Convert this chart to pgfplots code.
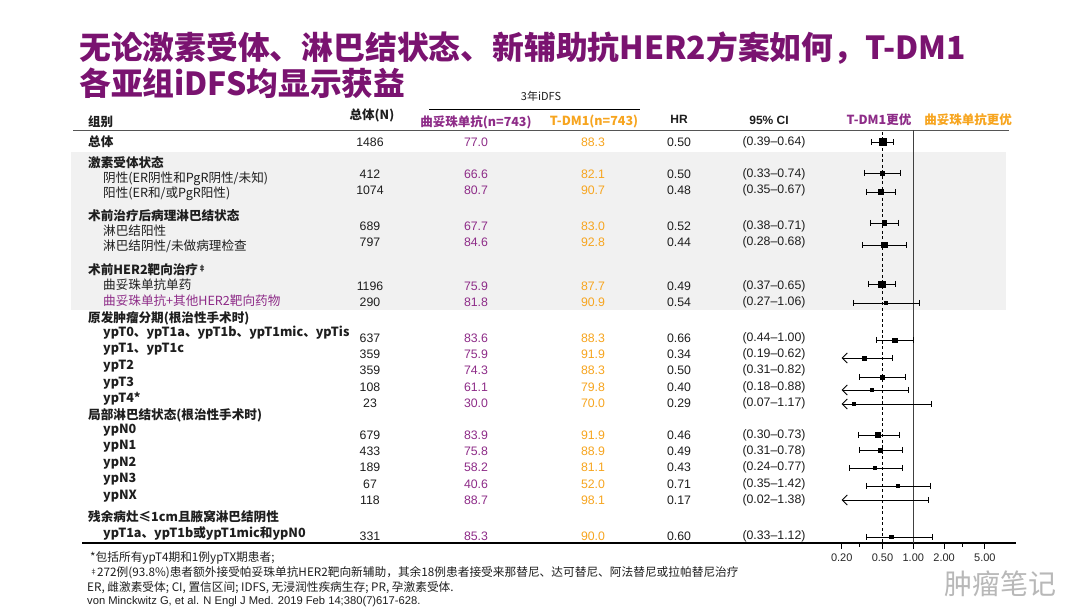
\documentclass[border=0pt]{standalone}
\usepackage{fontspec}
\setmainfont{Liberation Sans}
\newfontfamily\cjk{Noto Sans CJK SC}
\usepackage{pgfplots}
\pgfplotsset{compat=1.18}
\usepackage{pgfplotstable}
\usetikzlibrary{arrows.meta}
\definecolor{tpurple}{HTML}{7A1370}
\definecolor{npurple}{HTML}{8E2C88}
\definecolor{norange}{HTML}{F7A51F}
\definecolor{bggray}{HTML}{F1F1F1}
\definecolor{rulegray}{HTML}{555555}
\definecolor{txt}{HTML}{1E1E1E}

% HR point estimates (y = row position, ms = box half size)
\pgfplotstableread{
hr y ms
0.50 -142 3.7
0.50 -173 1.8
0.48 -192 2.6
0.52 -223 2.4
0.52 -245 2.6
0.49 -284 3.2
0.54 -303 1.6
0.66 -340 2.2
0.33 -358 1.8
0.50 -377 2.0
0.39 -390 1.6
0.26 -404 1.6
0.45 -435 2.4
0.48 -450 2.0
0.42 -468 1.7
0.71 -486 1.6
0.61 -537 1.7
}\hrdata

% 95% CI segments (lower bound >= 0.20)
\pgfplotstableread{
x y
0.39 -142
0.64 -142
nan nan
0.33 -173
0.74 -173
nan nan
0.35 -192
0.67 -192
nan nan
0.38 -223
0.71 -223
nan nan
0.32 -245
0.86 -245
nan nan
0.36 -284
0.67 -284
nan nan
0.26 -303
1.15 -303
nan nan
0.44 -340
1.00 -340
nan nan
0.30 -377
0.83 -377
nan nan
0.29 -435
0.73 -435
nan nan
0.30 -450
0.78 -450
nan nan
0.24 -468
0.78 -468
nan nan
0.35 -486
1.48 -486
nan nan
0.35 -537
1.52 -537
}\cidata

\begin{document}
\begin{tikzpicture}
\path[use as bounding box, fill=white] (0,0) rectangle (1080pt,607pt);
\begin{scope}[x=1pt,y=-1pt,shift={(0pt,607pt)}]
  \fill[bggray] (71,152) rectangle (1006,310);
  % title
  \node[anchor=west, text=tpurple, font=\cjk\bfseries\fontsize{31.8}{36}\selectfont, inner sep=0pt] at (79,48) {无论激素受体、淋巴结状态、新辅助抗HER2方案如何，T-DM1};
  \node[anchor=west, text=tpurple, font=\cjk\bfseries\fontsize{31.8}{36}\selectfont, inner sep=0pt] at (79,83) {各亚组iDFS均显示获益};
  % header
  \node[font=\cjk\fontsize{11}{13}\selectfont, text=txt] at (541,96) {3年iDFS};
  \draw[black, line width=0.8pt] (429,109) -- (640,109);
  \node[anchor=west, font=\cjk\bfseries\fontsize{12.5}{14}\selectfont, text=txt, inner sep=0pt] at (88,122) {组别};
  \node[font=\cjk\bfseries\fontsize{12.5}{14}\selectfont, text=txt] at (372,115) {总体(N)};
  \node[font=\cjk\bfseries\fontsize{12.5}{14}\selectfont, text=npurple] at (476,122) {曲妥珠单抗(n=743)};
  \node[font=\cjk\bfseries\fontsize{12.5}{14}\selectfont, text=norange] at (594,122) {T-DM1(n=743)};
  \node[font=\bfseries\fontsize{12}{14}\selectfont, text=txt] at (679,119) {HR};
  \node[font=\bfseries\fontsize{12}{14}\selectfont, text=txt] at (769,120) {95\% CI};
  \node[font=\cjk\bfseries\fontsize{12.5}{14}\selectfont, text=npurple] at (879,120) {T-DM1更优};
  \node[font=\cjk\bfseries\fontsize{12.5}{14}\selectfont, text=norange] at (968,120) {曲妥珠单抗更优};
  \draw[rulegray, line width=1.4pt] (73,130.5) -- (1009,130.5);
  % row labels
  \begin{scope}[every node/.style={anchor=west, inner sep=0pt, text=txt, font=\cjk\fontsize{12.6}{14}\selectfont}]
    \node[font=\cjk\bfseries\fontsize{12.6}{14}\selectfont] at (88,142) {总体};
    \node[font=\cjk\bfseries\fontsize{12.6}{14}\selectfont] at (88,163) {激素受体状态};
    \node at (103,179) {阴性(ER阴性和PgR阴性/未知)};
    \node at (103,194) {阳性(ER和/或PgR阳性)};
    \node[font=\cjk\bfseries\fontsize{12.6}{14}\selectfont] at (88,216) {术前治疗后病理淋巴结状态};
    \node at (103,231) {淋巴结阳性};
    \node at (103,246) {淋巴结阴性/未做病理检查};
    \node[font=\cjk\bfseries\fontsize{12.6}{14}\selectfont] at (88,270) {术前HER2靶向治疗\raisebox{3pt}{\fontsize{8}{8}\selectfont ‡}};
    \node at (103,285) {曲妥珠单抗单药};
    \node[text=npurple] at (103,301) {曲妥珠单抗+其他HER2靶向药物};
    \node[font=\cjk\bfseries\fontsize{12.6}{14}\selectfont] at (88,318) {原发肿瘤分期(根治性手术时)};
    \node[font=\cjk\bfseries\fontsize{12.6}{14}\selectfont] at (103,333) {ypT0、ypT1a、ypT1b、ypT1mic、ypTis};
    \node[font=\cjk\bfseries\fontsize{12.6}{14}\selectfont] at (103,349) {ypT1、ypT1c};
    \node[font=\cjk\bfseries\fontsize{12.6}{14}\selectfont] at (103,366) {ypT2};
    \node[font=\cjk\bfseries\fontsize{12.6}{14}\selectfont] at (103,383) {ypT3};
    \node[font=\cjk\bfseries\fontsize{12.6}{14}\selectfont] at (103,399) {ypT4*};
    \node[font=\cjk\bfseries\fontsize{12.6}{14}\selectfont] at (88,415) {局部淋巴结状态(根治性手术时)};
    \node[font=\cjk\bfseries\fontsize{12.6}{14}\selectfont] at (103,430) {ypN0};
    \node[font=\cjk\bfseries\fontsize{12.6}{14}\selectfont] at (103,446) {ypN1};
    \node[font=\cjk\bfseries\fontsize{12.6}{14}\selectfont] at (103,463) {ypN2};
    \node[font=\cjk\bfseries\fontsize{12.6}{14}\selectfont] at (103,479) {ypN3};
    \node[font=\cjk\bfseries\fontsize{12.6}{14}\selectfont] at (103,496) {ypNX};
    \node[font=\cjk\bfseries\fontsize{12.6}{14}\selectfont] at (88,517) {残余病灶≤1cm且腋窝淋巴结阴性};
    \node[font=\cjk\bfseries\fontsize{12.6}{14}\selectfont] at (103,533) {ypT1a、ypT1b或ypT1mic和ypN0};
  \end{scope}
  % numeric columns
  \begin{scope}[every node/.style={inner sep=0pt, font=\fontsize{12.3}{14}\selectfont}]
    \foreach \yy/\n/\a/\b/\h/\ci in {
      142/1486/77.0/88.3/0.50/0.39–0.64,
      174/412/66.6/82.1/0.50/0.33–0.74,
      190/1074/80.7/90.7/0.48/0.35–0.67,
      226/689/67.7/83.0/0.52/0.38–0.71,
      242/797/84.6/92.8/0.44/0.28–0.68,
      286/1196/75.9/87.7/0.49/0.37–0.65,
      302/290/81.8/90.9/0.54/0.27–1.06,
      338/637/83.6/88.3/0.66/0.44–1.00,
      354/359/75.9/91.9/0.34/0.19–0.62,
      370/359/74.3/88.3/0.50/0.31–0.82,
      387/108/61.1/79.8/0.40/0.18–0.88,
      403/23/30.0/70.0/0.29/0.07–1.17,
      435/679/83.9/91.9/0.46/0.30–0.73,
      451/433/75.8/88.9/0.49/0.31–0.78,
      467/189/58.2/81.1/0.43/0.24–0.77,
      484/67/40.6/52.0/0.71/0.35–1.42,
      500/118/88.7/98.1/0.17/0.02–1.38,
      536/331/85.3/90.0/0.60/0.33–1.12}{
      \node[text=txt] at (370,\yy) {\n};
      \node[text=npurple] at (476,\yy) {\a};
      \node[text=norange] at (593,\yy) {\b};
      \node[text=txt] at (679,\yy) {\h};
      \node[text=txt] at (774,\yy) {(\ci)};
    }
  \end{scope}
  % bottom rule (left part)
  \draw[black, line width=1.2pt] (82,543) -- (842,543);
  % footnotes
  \begin{scope}[every node/.style={anchor=west, inner sep=0pt, text=txt, font=\cjk\fontsize{11.7}{13}\selectfont}]
    \node at (90,558) {*包括所有ypT4期和1例ypTX期患者;};
    \node at (90,573) {\raisebox{2pt}{\fontsize{7}{7}\selectfont ‡}272例(93.8\%)患者额外接受帕妥珠单抗HER2靶向新辅助，其余18例患者接受来那替尼、达可替尼、阿法替尼或拉帕替尼治疗};
    \node at (87,588) {ER, 雌激素受体; CI, 置信区间; IDFS, 无浸润性疾病生存; PR, 孕激素受体.};
    \node[font=\fontsize{11.2}{13}\selectfont] at (87,602) {von Minckwitz G, et al. N Engl J Med. 2019 Feb 14;380(7)617-628.};
  \end{scope}
  % watermark (moved just below the tick labels)
  \node[text=black!28, font=\cjk\fontsize{28}{30}\selectfont] at (1000,584) {肿瘤笔记};
\end{scope}

\begin{axis}[
  at={(841.7pt,64pt)}, anchor=south west,
  scale only axis, width=174pt, height=413pt,
  xmode=log, xmin=0.2, xmax=10,
  ymin=-543, ymax=-130,
  axis y line=none, axis x line*=bottom,
  axis line style={black, line width=1.2pt},
  xtick={0.2,0.5,1,2,5},
  xticklabels={0.20,0.50,1.00,2.00,5.00},
  minor xtick={0.3,3},
  xtick align=outside,
  major tick length=6pt, minor tick length=4pt,
  tick style={black, line width=0.8pt},
  xticklabel style={font=\fontsize{11}{12}\selectfont, text=black!85, yshift=-1pt},
  clip=false,
]
  \draw[black, line width=0.8pt, dash pattern=on 3pt off 2.5pt] (axis cs:0.5,-132) -- (axis cs:0.5,-543);
  \draw[black!75, line width=1pt] (axis cs:1,-130) -- (axis cs:1,-543);
  \addplot[black, line width=0.7pt, unbounded coords=jump, mark=|, mark size=3pt, mark options={line width=0.7pt}] table[x=x,y=y] {\cidata};
  \addplot[black, line width=0.7pt, mark=|, mark size=3pt, mark indices={1}, -{Straight Barb[length=5pt,width=10pt,line width=0.9pt]}] coordinates {(0.62,-358) (0.2,-358)};
  \addplot[black, line width=0.7pt, mark=|, mark size=3pt, mark indices={1}, -{Straight Barb[length=5pt,width=10pt,line width=0.9pt]}] coordinates {(0.89,-390) (0.2,-390)};
  \addplot[black, line width=0.7pt, mark=|, mark size=3pt, mark indices={1}, -{Straight Barb[length=5pt,width=10pt,line width=0.9pt]}] coordinates {(1.50,-404) (0.2,-404)};
  \addplot[black, line width=0.7pt, mark=|, mark size=3pt, mark indices={1}, -{Straight Barb[length=5pt,width=10pt,line width=0.9pt]}] coordinates {(1.40,-500) (0.2,-500)};
  \addplot[only marks, mark=square*, scatter, scatter/use mapped color={draw=black, fill=black},
    visualization depends on={\thisrow{ms} \as \msz},
    scatter/@pre marker code/.append style={/tikz/mark size=\msz}]
    table[x=hr, y=y] {\hrdata};
\end{axis}
\end{tikzpicture}
\end{document}
